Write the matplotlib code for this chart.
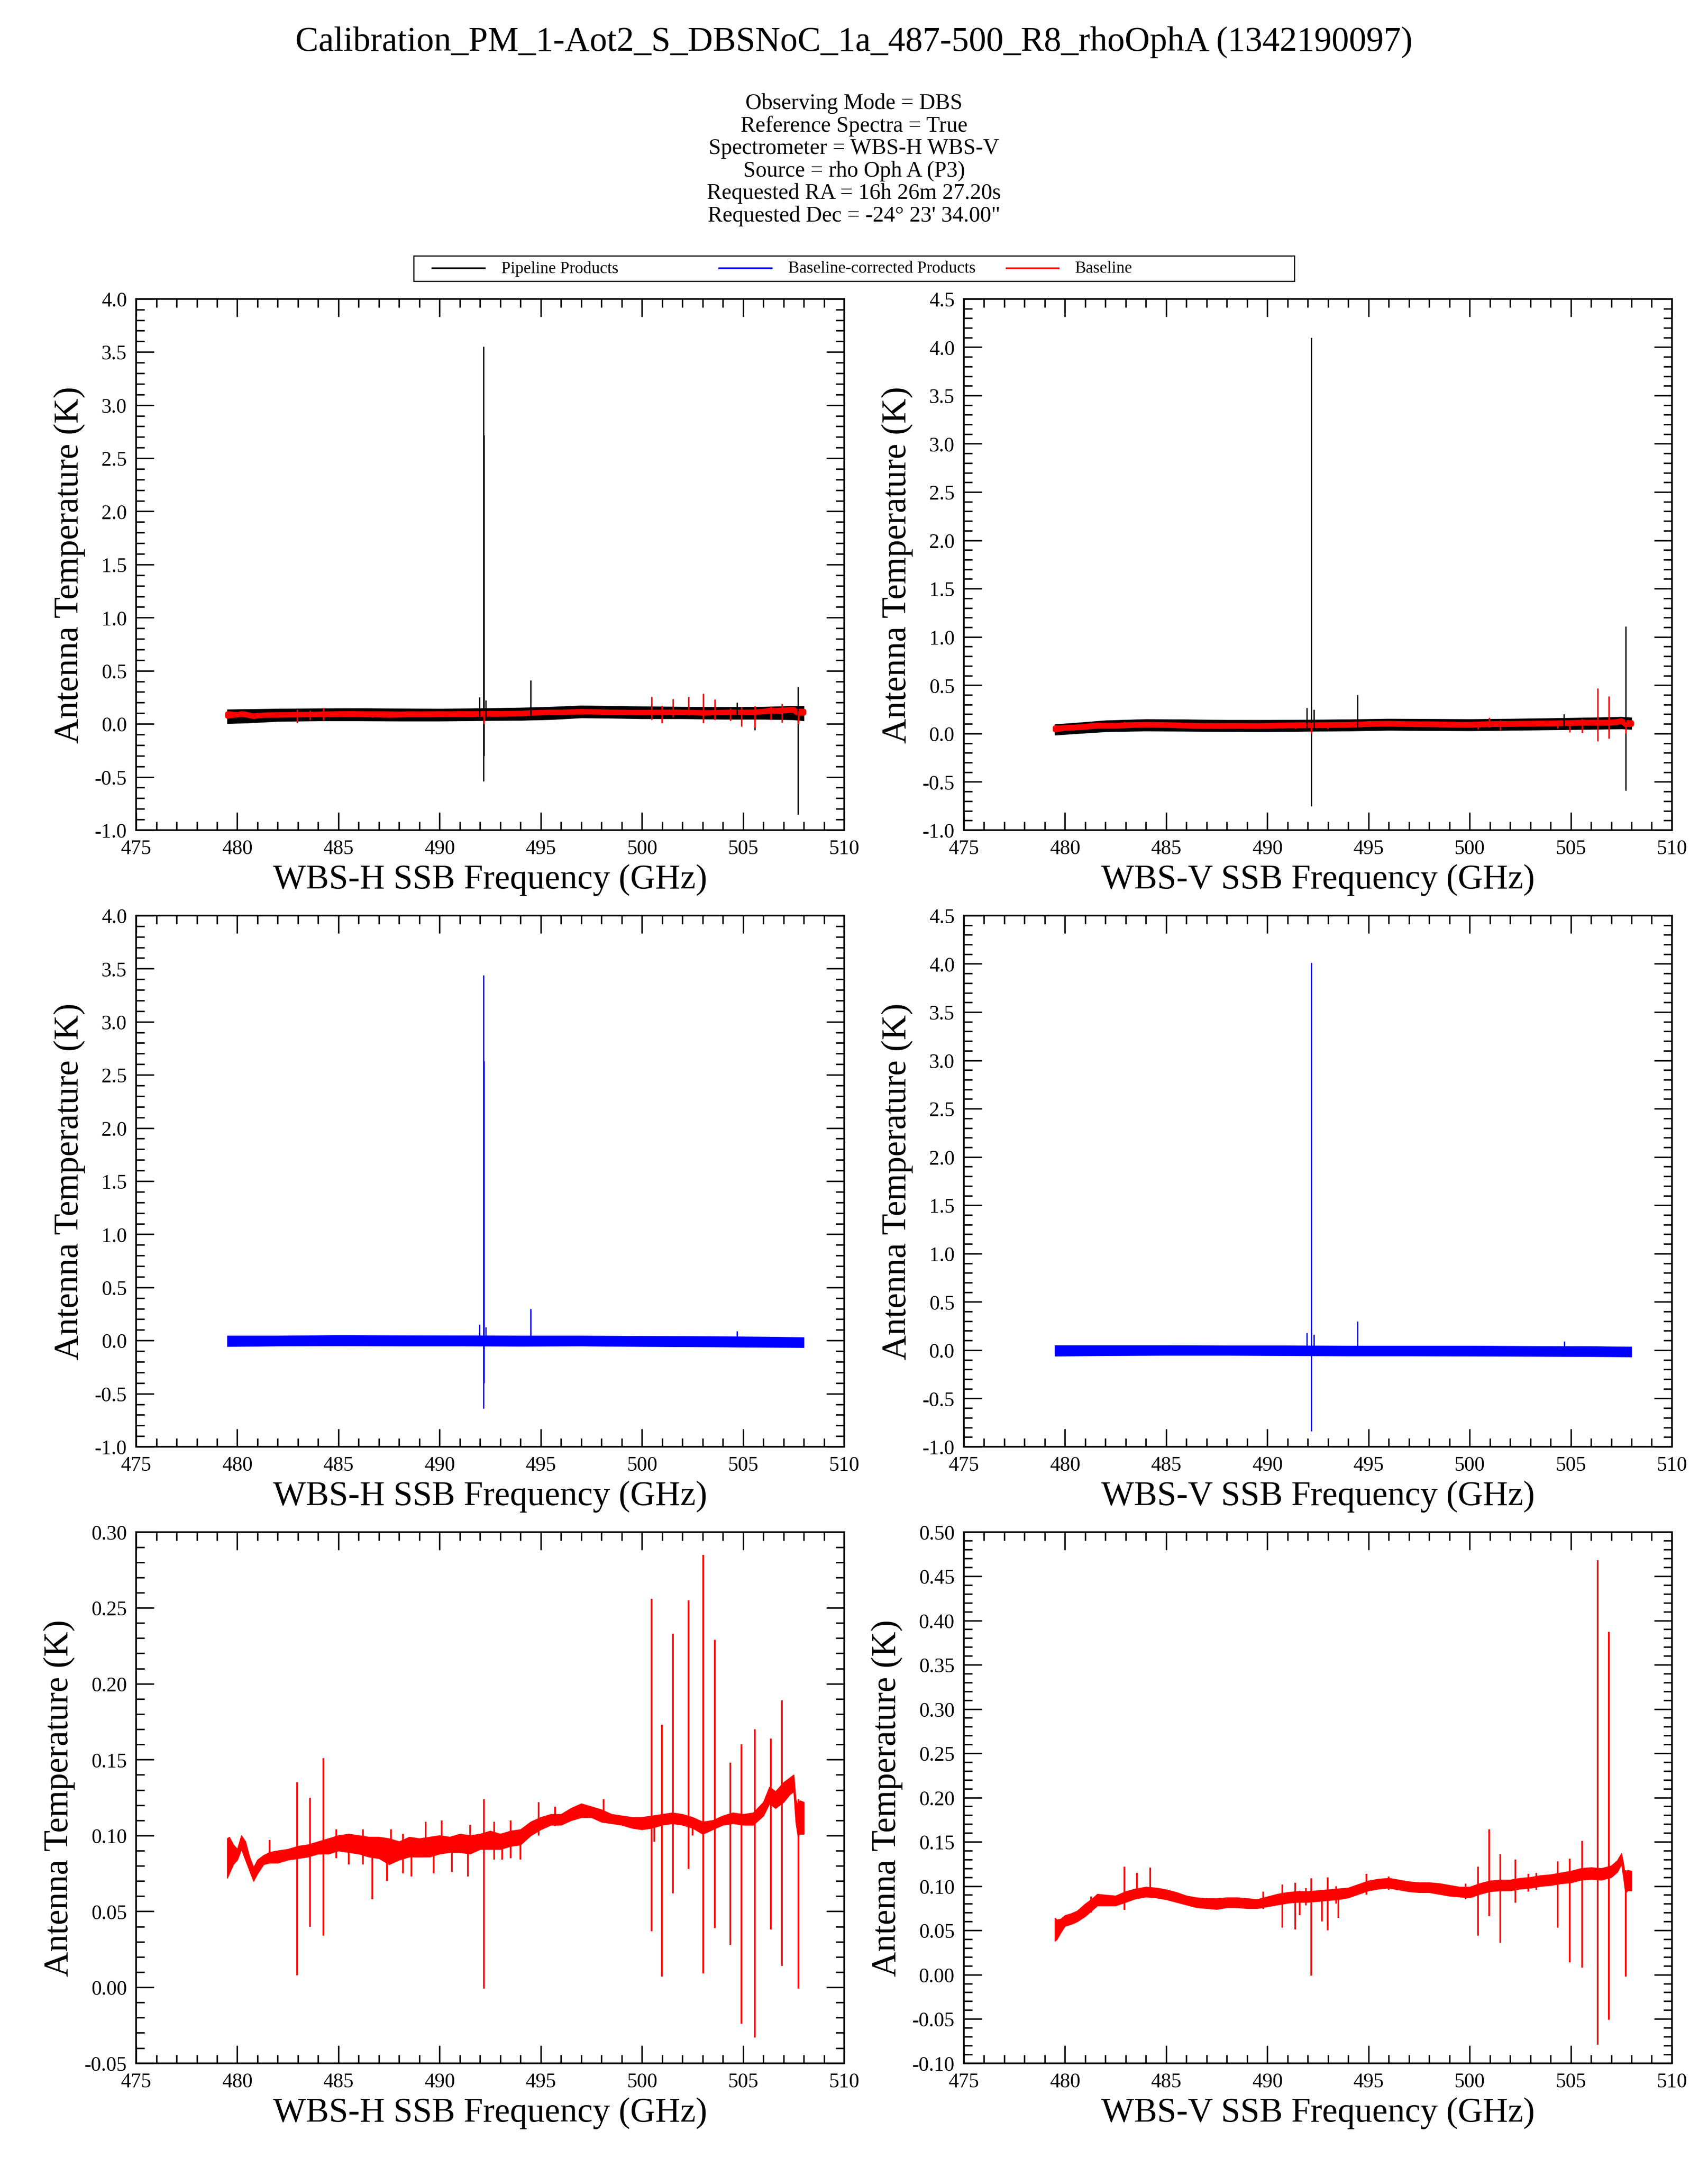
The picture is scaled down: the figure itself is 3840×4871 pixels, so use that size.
import numpy as np
import matplotlib
matplotlib.use('Agg')
import matplotlib.pyplot as plt
from matplotlib.ticker import MultipleLocator, FormatStrFormatter
from matplotlib.lines import Line2D
from matplotlib.patches import Rectangle

plt.rcParams['font.family'] = ['Liberation Serif', 'DejaVu Serif']
plt.rcParams['axes.unicode_minus'] = False

# ---------------- textos ----------------
titulo = 'Calibration_PM_1-Aot2_S_DBSNoC_1a_487-500_R8_rhoOphA (1342190097)'
info = ['Observing Mode = DBS',
        'Reference Spectra = True',
        'Spectrometer = WBS-H WBS-V',
        'Source = rho Oph A (P3)',
        'Requested RA = 16h 26m 27.20s',
        'Requested Dec = -24\u00b0 23\' 34.00"']
legendas = ['Pipeline Products', 'Baseline-corrected Products', 'Baseline']
cores_leg = ['black', 'blue', 'red']

# ---------------- WBS-H : baseline (vermelho) ----------------
h_red_f = [479.5, 479.6, 479.8, 480.0, 480.2, 480.4, 480.6, 480.8, 481.0, 481.3, 481.6,
           482.0, 482.5, 483.0, 483.5, 484.0, 484.5, 485.0, 485.5, 486.0, 486.5,
           487.0, 487.5, 488.0, 488.5, 489.0, 489.5, 490.0, 490.5, 491.0, 491.5,
           492.0, 492.5, 493.0, 493.5, 494.0, 494.5, 495.0, 495.5, 496.0, 496.5,
           497.0, 497.5, 498.0, 498.5, 499.0, 499.5, 500.0, 500.5, 501.0, 501.5,
           502.0, 502.5, 503.0, 503.5, 504.0, 504.5, 505.0, 505.5, 506.0,
           506.3, 506.6, 507.0, 507.3, 507.5, 507.6, 507.7, 507.8, 508.0]
h_red_lo = [.072, .075, .081, .084, .091, .084, .077, .070, .075, .081, .082,
            .082, .084, .085, .086, .088, .088, .090, .089, .088, .086,
            .085, .081, .084, .086, .086, .086, .088, .089, .089, .088,
            .091, .091, .091, .093, .094, .100, .104, .107, .107, .110,
            .112, .112, .109, .108, .107, .105, .104, .105, .107, .108,
            .107, .105, .101, .104, .107, .108, .107, .107, .113,
            .121, .118, .122, .127, .129, .109, .100, .101, .101]
h_red_hi = [.098, .099, .094, .091, .100, .096, .086, .079, .084, .087, .089,
            .090, .091, .093, .094, .096, .098, .100, .101, .100, .099,
            .099, .098, .096, .099, .098, .099, .100, .099, .101, .100,
            .101, .103, .101, .103, .104, .109, .112, .114, .114, .118,
            .121, .119, .117, .114, .113, .112, .112, .113, .114, .115,
            .114, .112, .109, .110, .113, .115, .114, .115, .122,
            .132, .129, .135, .138, .140, .124, .119, .123, .122]
h_red_spk_f = [482.95, 483.59, 484.26, 486.68, 492.18, 500.47, 500.98, 501.54, 502.30,
               503.02, 503.59, 504.37, 504.93, 505.58, 506.36, 506.92, 507.73,
               481.6, 484.9, 485.5, 486.2, 487.4, 487.6, 488.2, 488.6, 489.3, 489.7,
               490.1, 490.6, 491.4, 491.5, 492.7, 493.1, 493.5, 494.0, 494.9, 495.7,
               498.1, 500.6, 502.5]
h_red_spk_top = [.135, .125, .151, .092, .124, .256, .173, .233, .255,
                 .285, .229, .148, .160, .170, .164, .189, .124,
                 .097, .104, .100, .104, .095, .104, .101, .095, .109, .097,
                 .110, .098, .098, .107, .109, .100, .110, .103, .122, .119,
                 .124, .112, .112]
h_red_spk_bot = [.008, .040, .034, .058, -.001, .037, .007, .062, .078,
                 .009, .039, .028, -.024, -.033, .038, .014, -.001,
                 .084, .085, .081, .081, .070, .085, .075, .073, .086, .075,
                 .088, .076, .073, .089, .084, .084, .085, .084, .100, .106,
                 .110, .096, .100]

# ---------------- WBS-V : baseline (vermelho) ----------------
v_red_f = [479.5, 479.6, 479.8, 480.0, 480.3, 480.6, 481.0, 481.3, 481.6,
           482.0, 482.5, 483.0, 483.5, 484.0, 484.5, 485.0, 485.5, 486.0, 486.5,
           487.0, 487.5, 488.0, 488.5, 489.0, 489.5, 490.0, 490.5, 491.0, 491.5,
           492.0, 492.5, 493.0, 493.5, 494.0, 494.5, 495.0, 495.5, 496.0, 496.5,
           497.0, 497.5, 498.0, 498.5, 499.0, 499.5, 500.0, 500.5, 501.0, 501.5,
           502.0, 502.5, 503.0, 503.5, 504.0, 504.5, 505.0, 505.5, 506.0, 506.5, 507.0,
           507.3, 507.5, 507.6, 507.7, 507.8, 508.0]
v_red_lo = [.038, .040, .048, .055, .057, .060, .066, .072, .078,
            .078, .078, .082, .086, .088, .087, .085, .082, .079, .076,
            .075, .074, .076, .076, .075, .075, .077, .079, .081, .082,
            .082, .083, .084, .085, .087, .091, .095, .097, .098, .096,
            .094, .093, .093, .091, .089, .088, .087, .091, .094, .095,
            .095, .097, .098, .100, .101, .103, .104, .107, .108, .107, .110,
            .116, .125, .110, .092, .095, .095]
v_red_hi = [.064, .062, .063, .067, .069, .072, .080, .085, .091,
            .090, .089, .094, .097, .099, .098, .096, .093, .089, .087,
            .086, .086, .087, .087, .086, .085, .088, .091, .093, .094,
            .094, .095, .096, .097, .098, .102, .106, .108, .109, .107,
            .105, .104, .104, .103, .101, .099, .099, .103, .106, .107,
            .107, .109, .110, .112, .113, .115, .117, .120, .121, .120, .123,
            .129, .137, .125, .110, .118, .117]
v_red_spk_f = [482.94, 483.56, 484.21, 490.75, 491.37, 491.61, 492.18, 492.71, 492.98,
               493.52, 494.90, 500.42, 500.96, 501.52, 502.27, 504.35, 504.94, 505.56,
               506.34, 506.88, 507.71,
               481.3, 489.8, 491.9, 493.4, 496.0, 499.8, 502.9, 503.3]
v_red_spk_top = [.122, .115, .121, .102, .104, .095, .109, .093, .110,
                 .095, .114, .122, .164, .136, .130, .128, .131, .151,
                 .468, .387, .118,
                 .088, .094, .098, .100, .111, .103, .114, .115]
v_red_spk_bot = [.073, .088, .092, .053, .051, .067, -.001, .060, .050,
                 .064, .090, .044, .066, .036, .081, .053, .014, .008,
                 -.079, -.051, -.002,
                 .070, .074, .078, .080, .096, .085, .094, .096]

# ---------------- pipeline (preto), envelopes do ruido ----------------
h_pipe_f = [479.5, 480.5, 482, 484, 486, 488, 490, 492, 494, 495.5, 497, 498.5,
            500, 502, 504, 506, 507.5, 508.0]
h_pipe_lo = [.005, .010, .025, .030, .030, .028, .028, .032, .035, .042, .058, .055,
             .050, .050, .045, .045, .040, .030]
h_pipe_hi = [.135, .138, .142, .145, .146, .144, .142, .146, .152, .160, .172, .168,
             .164, .160, .158, .160, .168, .168]
h_pipe_spk_f = [492.17, 492.19, 491.98, 492.27, 494.49, 504.70, 505.58, 507.72]
h_pipe_spk_top = [3.55, 2.72, 0.25, 0.224, 0.41, 0.20, 0.10, 0.35]
h_pipe_spk_bot = [-0.54, -0.30, 0.05, 0.05, 0.06, 0.05, -0.06, -0.855]

v_pipe_f = [479.5, 480.5, 482, 484, 486, 488, 490, 492, 494, 496, 498, 500,
            502, 504, 506, 507.5, 508.0]
v_pipe_lo = [-.015, .000, .020, .028, .025, .022, .020, .025, .028, .035, .032, .030,
             .035, .040, .045, .050, .045]
v_pipe_hi = [.095, .110, .135, .148, .145, .140, .140, .142, .146, .152, .150, .148,
             .152, .158, .165, .172, .165]
v_pipe_spk_f = [492.18, 491.96, 492.31, 494.46, 504.65, 507.71]
v_pipe_spk_top = [4.10, 0.267, 0.25, 0.40, 0.20, 1.11]
v_pipe_spk_bot = [-0.75, 0.05, 0.05, 0.06, 0.06, -0.59]

# ---------------- baseline-corrected (azul) ----------------
h_corr_f = [479.5, 482, 485, 488, 491, 494, 497, 500, 503, 506, 508]
h_corr_lo = [-.055, -.050, -.048, -.050, -.050, -.052, -.050, -.055, -.058, -.062, -.065]
h_corr_hi = [.045, .045, .050, .048, .047, .045, .045, .042, .040, .035, .030]
h_corr_spk_f = [492.17, 492.19, 491.98, 492.27, 494.49, 504.70]
h_corr_spk_top = [3.44, 2.63, 0.15, 0.125, 0.30, 0.09]
h_corr_spk_bot = [-0.64, -0.40, -0.02, -0.02, -0.02, -0.02]

v_corr_f = [479.5, 482, 485, 488, 491, 494, 497, 500, 503, 506, 508]
v_corr_lo = [-.060, -.055, -.052, -.052, -.055, -.058, -.058, -.060, -.062, -.065, -.068]
v_corr_hi = [.050, .050, .050, .048, .048, .045, .045, .045, .042, .040, .035]
v_corr_spk_f = [492.18, 491.96, 492.31, 494.46, 504.67]
v_corr_spk_top = [4.01, 0.18, 0.16, 0.30, 0.09]
v_corr_spk_bot = [-0.84, -0.02, -0.02, -0.02, -0.02]


def eixos(ax, xlabel, ymin, ymax, maior, menor, fmt):
    ax.set_xlim(475, 510)
    ax.set_ylim(ymin, ymax)
    ax.xaxis.set_major_locator(MultipleLocator(5))
    ax.xaxis.set_minor_locator(MultipleLocator(1))
    ax.yaxis.set_major_locator(MultipleLocator(maior))
    ax.yaxis.set_minor_locator(MultipleLocator(menor))
    ax.yaxis.set_major_formatter(FormatStrFormatter(fmt))
    ax.tick_params(which='both', direction='in', top=True, right=True,
                   labelsize=11, width=0.8, pad=5)
    ax.tick_params(which='major', length=9.5)
    ax.tick_params(which='minor', length=4.5)
    for s in ax.spines.values():
        s.set_linewidth(0.9)
    ax.set_xlabel(xlabel, fontsize=18.7, labelpad=3)
    ax.set_ylabel('Antenna Temperature (K)', fontsize=18.7, labelpad=5)


def banda(ax, f, lo, hi, cor, lw):
    ax.fill_between(f, lo, hi, color=cor, linewidth=lw, edgecolor=cor)


def picos(ax, f, top, bot, cor, lw):
    ax.vlines(f, bot, top, colors=cor, linewidth=lw)


fig = plt.figure(figsize=(12.8, 16.24), dpi=300)

esq = [0.0797, 0.5643]
baixo = [0.6168, 0.3323, 0.0479]
larg, alt = 0.4146, 0.2451

pol = [
    dict(nome='WBS-H', ymax=4.0, y3=(-0.05, 0.30),
         pipe=(h_pipe_f, h_pipe_lo, h_pipe_hi), pspk=(h_pipe_spk_f, h_pipe_spk_top, h_pipe_spk_bot),
         corr=(h_corr_f, h_corr_lo, h_corr_hi), cspk=(h_corr_spk_f, h_corr_spk_top, h_corr_spk_bot),
         red=(h_red_f, h_red_lo, h_red_hi), rspk=(h_red_spk_f, h_red_spk_top, h_red_spk_bot)),
    dict(nome='WBS-V', ymax=4.5, y3=(-0.10, 0.50),
         pipe=(v_pipe_f, v_pipe_lo, v_pipe_hi), pspk=(v_pipe_spk_f, v_pipe_spk_top, v_pipe_spk_bot),
         corr=(v_corr_f, v_corr_lo, v_corr_hi), cspk=(v_corr_spk_f, v_corr_spk_top, v_corr_spk_bot),
         red=(v_red_f, v_red_lo, v_red_hi), rspk=(v_red_spk_f, v_red_spk_top, v_red_spk_bot)),
]

for c, p in enumerate(pol):
    xl = p['nome'] + ' SSB Frequency (GHz)'

    # linha 1: pipeline + baseline
    ax = fig.add_axes([esq[c], baixo[0], larg, alt])
    banda(ax, *p['pipe'], 'black', 0.3)
    picos(ax, *p['pspk'], 'black', 0.7)
    banda(ax, *p['red'], 'red', 2.5)
    picos(ax, *p['rspk'], 'red', 0.8)
    eixos(ax, xl, -1.0, p['ymax'], 0.5, 0.1, '%.1f')

    # linha 2: produtos corrigidos
    ax = fig.add_axes([esq[c], baixo[1], larg, alt])
    banda(ax, *p['corr'], 'blue', 0.3)
    picos(ax, *p['cspk'], 'blue', 0.7)
    eixos(ax, xl, -1.0, p['ymax'], 0.5, 0.1, '%.1f')

    # linha 3: baseline
    ax = fig.add_axes([esq[c], baixo[2], larg, alt])
    banda(ax, *p['red'], 'red', 0.5)
    picos(ax, *p['rspk'], 'red', 0.9)
    eixos(ax, xl, p['y3'][0], p['y3'][1], 0.05, 0.01, '%.2f')

# titulo e informacoes
fig.text(0.5, 0.9805, titulo, ha='center', va='center', fontsize=18.7)
for i, linha in enumerate(info):
    fig.text(0.5, 0.9522 - i * 0.01036, linha, ha='center', va='center', fontsize=12)

# legenda desenhada a mao (colunas de largura fixa, como no original)
fig.add_artist(Rectangle((0.2423, 0.8701), 0.5154, 0.0117, transform=fig.transFigure,
                         fill=False, edgecolor='black', linewidth=0.6))
for i, (k, lab) in enumerate(zip(cores_leg, legendas)):
    x0 = 0.2532 + i * 0.168
    fig.add_artist(Line2D([x0, x0 + 0.0306], [0.8760, 0.8760], transform=fig.transFigure,
                          color=k, linewidth=0.9))
    fig.text(x0 + 0.0402, 0.8760, lab, ha='left', va='center', fontsize=9)

fig.savefig('out.png', dpi=300)
